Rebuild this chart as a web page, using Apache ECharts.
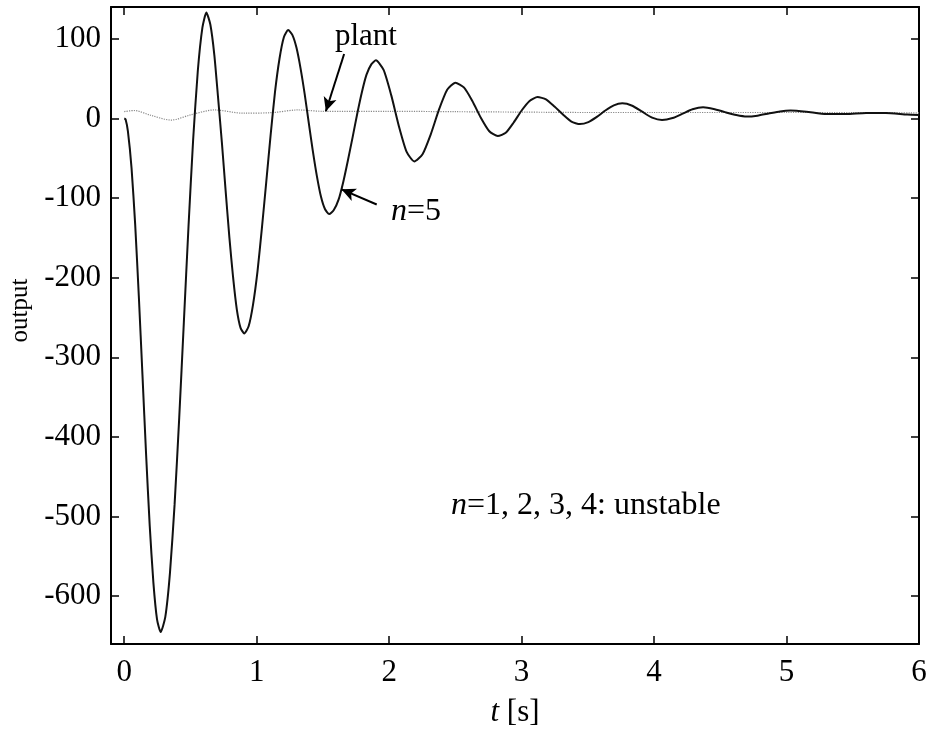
<!DOCTYPE html>
<html>
<head>
<meta charset="utf-8">
<script src="https://cdn.jsdelivr.net/npm/echarts@6/dist/echarts.min.js"></script>
<style>
  html, body { margin: 0; padding: 0; background: #fff; }
  #chart { width: 931px; height: 733px; }
</style>
</head>
<body>
<div id="chart"></div>
<script>
// time samples and responses
const tN5 = [0, 0.01, 0.0275, 0.055, 0.0825, 0.11, 0.1375, 0.165, 0.1925, 0.22, 0.2475, 0.275,
  0.31, 0.345, 0.38, 0.415, 0.45, 0.485, 0.52, 0.555, 0.59, 0.62,
  0.65, 0.68, 0.709, 0.737, 0.765, 0.794, 0.822, 0.85, 0.878, 0.906,
  0.939, 0.972, 1.006, 1.039, 1.072, 1.105, 1.138, 1.172, 1.205, 1.238,
  1.269, 1.300, 1.331, 1.362, 1.3925, 1.423, 1.454, 1.485, 1.516, 1.547,
  1.582, 1.618, 1.653, 1.688, 1.7235, 1.759, 1.794, 1.829, 1.865, 1.90,
  1.958, 2.016, 2.074, 2.132, 2.19,
  2.252, 2.314, 2.376, 2.438, 2.50,
  2.564, 2.628, 2.692, 2.756, 2.82,
  2.88, 2.94, 3.0, 3.06, 3.12,
  3.184, 3.248, 3.312, 3.376, 3.44,
  3.504, 3.568, 3.632, 3.696, 3.76,
  3.835, 3.91, 3.985, 4.06,
  4.14, 4.215, 4.29, 4.37,
  4.45, 4.535, 4.62, 4.70,
  4.78, 4.865, 4.95, 5.03,
  5.15, 5.30, 5.45, 5.60, 5.75, 5.91, 6.0]
const yN5 = [0, -1, -16, -62, -133, -223, -322, -422, -512, -583, -629, -645,
  -626, -571, -485, -376, -256, -136, -27, 59, 114, 133,
  118, 80, 25, -30, -90, -150, -200, -240, -263, -270,
  -261, -234, -192, -138, -80, -21, 33, 75, 102, 111,
  105, 89, 63, 31, -5, -40, -72, -98, -114, -120,
  -115, -102, -80, -53, -24, 6, 33, 55, 68, 73,
  61, 29, -10, -42, -54,
  -45, -20, 11, 36, 45,
  39, 22, 1, -16, -22,
  -18, -5, 10, 22, 27,
  24, 15, 5, -4, -7,
  -4.5, 2, 10, 16.5, 19,
  16, 8.5, 1, -2,
  0.5, 6, 11.5, 14,
  12, 8, 4.3, 2.4,
  3.5, 6.2, 8.9, 10,
  8.5, 5.5, 5.5, 7, 7, 5, 4.5]

const tPlant = [0, 0.075, 0.2, 0.354, 0.5, 0.68, 0.9, 1.12, 1.31, 1.5, 2.0, 2.5, 3.0, 3.5, 4.0, 4.5, 5.0, 5.5, 6.0]
const yPlant = [8.6, 10, 4, -2, 4.5, 10.7, 6.6, 7.4, 10.7, 9, 9, 8.5, 8, 7.5, 7.5, 7.5, 7.5, 7.5, 7]

const xTicks = [0, 1, 2, 3, 4, 5, 6]
const yTicks = [100, 0, -100, -200, -300, -400, -500, -600]

const font = 'Liberation Serif'

let myChart = echarts.init(document.getElementById('chart'))

const tickStyle = {show: true, inside: true, length: 8, lineStyle: {color: '#000', width: 1.5}}
const lineStyle = {onZero: false, lineStyle: {color: '#000', width: 2}}

myChart.setOption({
  animation: false,
  backgroundColor: '#fff',
  grid: {left: 110, right: 12, top: 7, bottom: 85},
  xAxis: [
    {
      type: 'value',
      min: -0.1,
      max: 6,
      position: 'bottom',
      name: '{i|t} [s]',
      nameLocation: 'middle',
      nameGap: 53,
      nameTextStyle: {
        fontFamily: font, fontSize: 31, color: '#000',
        rich: {i: {fontFamily: font, fontSize: 31, fontStyle: 'italic', color: '#000'}}
      },
      axisLine: lineStyle,
      axisTick: Object.assign({customValues: xTicks}, tickStyle),
      axisLabel: {customValues: xTicks, fontFamily: font, fontSize: 31, color: '#000', margin: 13},
      splitLine: {show: false}
    },
    {
      type: 'value',
      min: -0.1,
      max: 6,
      position: 'top',
      axisLine: lineStyle,
      axisTick: Object.assign({customValues: xTicks}, tickStyle),
      axisLabel: {show: false},
      splitLine: {show: false}
    }
  ],
  yAxis: [
    {
      type: 'value',
      min: -660,
      max: 140,
      position: 'left',
      name: 'output',
      nameLocation: 'middle',
      nameGap: 78,
      nameTextStyle: {fontFamily: font, fontSize: 25, color: '#000', padding: [0, 0, 0, 30]},
      axisLine: lineStyle,
      axisTick: Object.assign({customValues: yTicks}, tickStyle),
      axisLabel: {customValues: yTicks, fontFamily: font, fontSize: 31, color: '#000', margin: 10},
      splitLine: {show: false}
    },
    {
      type: 'value',
      min: -660,
      max: 140,
      position: 'right',
      axisLine: lineStyle,
      axisTick: Object.assign({customValues: yTicks}, tickStyle),
      axisLabel: {show: false},
      splitLine: {show: false}
    }
  ],
  series: [
    {
      name: 'plant',
      type: 'line',
      showSymbol: false,
      smooth: 0.3,
      data: tPlant.map((t, i) => [t, yPlant[i]]),
      lineStyle: {color: '#888', width: 1.2, type: 'dotted'},
      z: 2
    },
    {
      name: 'n=5',
      type: 'line',
      showSymbol: false,
      smooth: 0.2,
      data: tN5.map((t, i) => [t, yN5[i]]),
      lineStyle: {color: '#111', width: 2},
      z: 3,
      markLine: {
        silent: true,
        symbol: ['none', 'arrow'],
        symbolSize: [10, 14],
        label: {show: false},
        lineStyle: {color: '#000', width: 2, type: 'solid'},
        data: [
          [{coord: [1.66, 81]}, {coord: [1.522, 9]}],
          [{coord: [1.906, -108]}, {coord: [1.64, -89]}]
        ]
      }
    }
  ],
  graphic: [
    {
      type: 'text',
      left: 335,
      top: 21,
      style: {text: 'plant', font: '31px "Liberation Serif"', fill: '#000'}
    },
    {
      type: 'text',
      left: 391,
      top: 196,
      style: {
        text: '{i|n}=5',
        font: '32px "Liberation Serif"',
        fill: '#000',
        rich: {i: {fontFamily: font, fontSize: 32, fontStyle: 'italic', fill: '#000'}}
      }
    },
    {
      type: 'text',
      left: 451,
      top: 490,
      style: {
        text: '{i|n}=1, 2, 3, 4: unstable',
        font: '32px "Liberation Serif"',
        fill: '#000',
        rich: {i: {fontFamily: font, fontSize: 32, fontStyle: 'italic', fill: '#000'}}
      }
    }
  ]
})
</script>
</body>
</html>
